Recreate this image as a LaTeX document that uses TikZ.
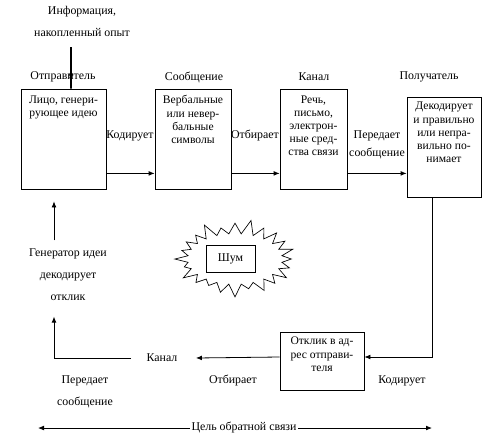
\documentclass[tikz,border=0pt]{standalone}
\usepackage{fontspec}
\setmainfont{Liberation Serif}
\usetikzlibrary{positioning,calc,arrows.meta,shapes.symbols}

\tikzset{
  box/.style={draw, line width=0.6pt, inner sep=0pt},
  boxtext/.style={align=center, inner sep=0pt, font=\fontsize{8.7}{9.9}\selectfont},
  lbl/.style={align=center, inner sep=1pt, font=\fontsize{8.9}{16.5}\selectfont},
  conn/.style={draw=black, line width=0.6pt, ->},
}

\begin{document}
\begin{tikzpicture}[x=0.75pt, y=-0.75pt, >={Latex[length=4.5pt,width=3.6pt]}]
    \useasboundingbox (0,0) rectangle (499,443);
    % labels
    \node[lbl] (info) at (82,21) {Информация,\\накопленный опыт};
    \node[lbl] (sndlbl) at (63,77) {Отправитель};
    \node[lbl] (msglbl) at (194,77) {Сообщение};
    \node[lbl] (chnlbl) at (314,77) {Канал};
    \node[lbl] (rcvlbl) at (429,77) {Получатель};
    \node[lbl] (enc) at (130,136) {Кодирует};
    \node[lbl] (sel) at (255,136) {Отбирает};
    \node[lbl, font=\fontsize{8.9}{13.5}\selectfont] (send) at (377,145) {Передает\\сообщение};
    \node[lbl] (enc2) at (402,381) {Кодирует};
    \node[lbl] (sel2) at (233,381) {Отбирает};
    \node[lbl] (chn2) at (162,358) {Канал};
    \node[lbl] (send2) at (85,392) {Передает\\сообщение};
    \node[lbl] (gen) at (68,275) {Генератор идеи\\декодирует\\отклик};
    \node[lbl] (goal) at (244,428) {Цель обратной связи};
    % boxes
    \node[box, minimum width=63.75pt, minimum height=75pt] (snd) at (63.5,139) {};
    \node[box, minimum width=57pt, minimum height=75pt] (msg) at (193,139) {};
    \node[box, minimum width=50.25pt, minimum height=75pt] (chn) at (313.5,139) {};
    \node[box, minimum width=55.5pt, minimum height=75pt] (rcv) at (444,147) {};
    \node[box, minimum width=63pt, minimum height=43.5pt] (fb) at (322,361) {};
    \node[boxtext, below=5pt of snd.north] (sndtxt) {Лицо, генери-\\рующее идею};
    \node[boxtext, below=5pt of msg.north] (msgtxt) {Вербальные\\или невер-\\бальные\\символы};
    \node[boxtext, below=5pt of chn.north] (chntxt) {Речь,\\письмо,\\электрон-\\ные сред-\\ства связи};
    \node[boxtext, below=4pt of rcv.north] (rcvtxt) {Декодирует\\и правильно\\или непра-\\вильно по-\\нимает};
    \node[boxtext, below=4pt of fb.north] (fbtxt) {Отклик в ад-\\рес отправи-\\теля};
    % noise
    \node[draw, line width=0.5pt, starburst, starburst points=24, starburst point height=11pt,
          minimum width=93pt, minimum height=60pt] (burst) at (235,259) {};
    \node[box, fill=white, minimum width=36.75pt, minimum height=20.25pt, font=\fontsize{8.9}{10}\selectfont] (noise) at (230.5,258.5) {Шум};
    % helper points
    \coordinate (intop) at (71,47);
    \coordinate (down) at ($(rcv.south)+(-12,0)$);
    \coordinate (up) at ($(snd.south)+(-9.5,0)$);
    \coordinate (chr) at ($(chn.south east)+(0,-16)$);
    \coordinate (gl) at (38,428);
    \coordinate (gr) at (432,428);
    % connectors
    \draw[conn, line width=1pt] (intop) -- (intop |- snd.north) -- ++(0,-19);
    \draw[conn] ($(snd.south east)+(0,-16)$) -- ($(msg.south west)+(0,-16)$);
    \draw[conn] ($(msg.south east)+(0,-16)$) -- ($(chn.south west)+(0,-16)$);
    \draw[conn] (chr) -- (chr -| rcv.west);
    \draw[conn] (down) |- ($(fb.east)+(0,-4)$);
    \draw[conn] ($(fb.west)+(0,-4)$) -- ($(chn2.east)+(17,0)$);
    \draw[conn] ($(chn2.west)+(-14,0)$) -| ($(gen.south -| up)+(0,14)$);
    \draw[conn] ($(gen.north -| up)+(0,-7)$) -- ($(up)+(0,12)$);
    \draw[conn] (goal.west) -- (gl);
    \draw[conn] (goal.east) -- (gr);
\end{tikzpicture}
\end{document}
